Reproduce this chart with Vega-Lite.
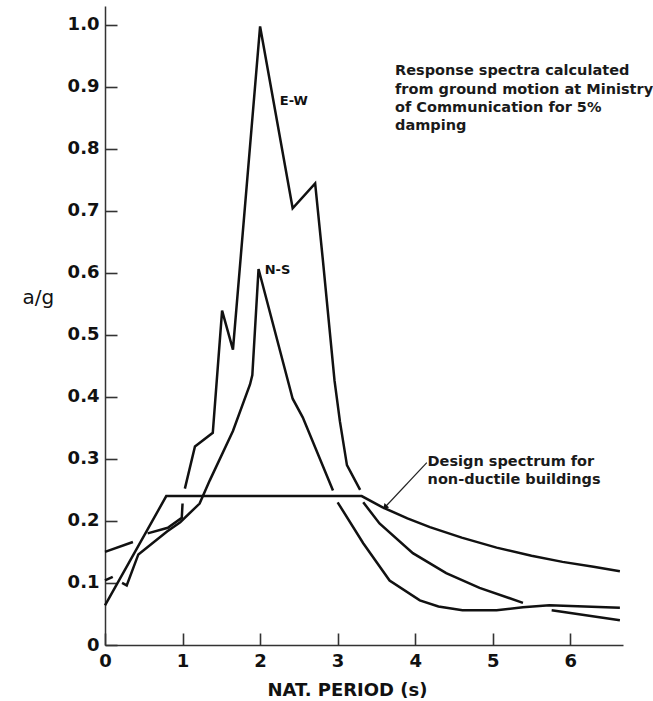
{
  "$schema": "https://vega.github.io/schema/vega-lite/v6.json",
  "autosize": "none",
  "width": 518,
  "height": 639,
  "padding": {"left": 105, "top": 6, "right": 30, "bottom": 56},
  "background": "white",
  "config": {"view": {"stroke": null}},
  "datasets": {
    "curves": [
      {"k": "NS1", "series": "N-S", "x": 0, "y": 0.104},
      {"k": "NS1", "series": "N-S", "x": 0.1, "y": 0.11},
      {"k": "NS2", "series": "N-S", "x": 0.22, "y": 0.1},
      {"k": "NS2", "series": "N-S", "x": 0.28, "y": 0.096},
      {"k": "NS2", "series": "N-S", "x": 0.43, "y": 0.146},
      {"k": "NS2", "series": "N-S", "x": 0.8, "y": 0.183},
      {"k": "NS2", "series": "N-S", "x": 0.97, "y": 0.198},
      {"k": "NS2", "series": "N-S", "x": 1.22, "y": 0.228},
      {"k": "NS2", "series": "N-S", "x": 1.35, "y": 0.265},
      {"k": "NS2", "series": "N-S", "x": 1.65, "y": 0.345},
      {"k": "NS2", "series": "N-S", "x": 1.87, "y": 0.42},
      {"k": "NS2", "series": "N-S", "x": 1.9, "y": 0.435},
      {"k": "NS2", "series": "N-S", "x": 1.98, "y": 0.606},
      {"k": "NS2", "series": "N-S", "x": 2.42, "y": 0.397},
      {"k": "NS2", "series": "N-S", "x": 2.55, "y": 0.367},
      {"k": "NS2", "series": "N-S", "x": 2.94, "y": 0.249},
      {"k": "NS3", "series": "N-S", "x": 3.0, "y": 0.23},
      {"k": "NS3", "series": "N-S", "x": 3.33, "y": 0.164},
      {"k": "NS3", "series": "N-S", "x": 3.67, "y": 0.104},
      {"k": "NS3", "series": "N-S", "x": 4.06, "y": 0.072},
      {"k": "NS3", "series": "N-S", "x": 4.3, "y": 0.062},
      {"k": "NS3", "series": "N-S", "x": 4.61, "y": 0.056},
      {"k": "NS3", "series": "N-S", "x": 5.05, "y": 0.056},
      {"k": "NS3", "series": "N-S", "x": 5.39, "y": 0.061},
      {"k": "NS3", "series": "N-S", "x": 5.73, "y": 0.064},
      {"k": "NS3", "series": "N-S", "x": 6.64, "y": 0.06},
      {"k": "EW1", "series": "E-W", "x": 0, "y": 0.15},
      {"k": "EW1", "series": "E-W", "x": 0.36, "y": 0.166},
      {"k": "EW2", "series": "E-W", "x": 0.55, "y": 0.18},
      {"k": "EW2", "series": "E-W", "x": 0.81, "y": 0.189},
      {"k": "EW2", "series": "E-W", "x": 0.99, "y": 0.205},
      {"k": "EW2", "series": "E-W", "x": 1.0, "y": 0.228},
      {"k": "EW3", "series": "E-W", "x": 1.03, "y": 0.252},
      {"k": "EW3", "series": "E-W", "x": 1.16, "y": 0.32},
      {"k": "EW3", "series": "E-W", "x": 1.39, "y": 0.342},
      {"k": "EW3", "series": "E-W", "x": 1.51, "y": 0.539},
      {"k": "EW3", "series": "E-W", "x": 1.65, "y": 0.476},
      {"k": "EW3", "series": "E-W", "x": 2.0, "y": 0.997},
      {"k": "EW3", "series": "E-W", "x": 2.42, "y": 0.704},
      {"k": "EW3", "series": "E-W", "x": 2.71, "y": 0.744},
      {"k": "EW3", "series": "E-W", "x": 2.81, "y": 0.62},
      {"k": "EW3", "series": "E-W", "x": 2.96, "y": 0.426},
      {"k": "EW3", "series": "E-W", "x": 3.03, "y": 0.36},
      {"k": "EW3", "series": "E-W", "x": 3.12, "y": 0.29},
      {"k": "EW3", "series": "E-W", "x": 3.29, "y": 0.25},
      {"k": "EW4", "series": "E-W", "x": 3.33, "y": 0.23},
      {"k": "EW4", "series": "E-W", "x": 3.54, "y": 0.196},
      {"k": "EW4", "series": "E-W", "x": 3.97, "y": 0.148},
      {"k": "EW4", "series": "E-W", "x": 4.4, "y": 0.116},
      {"k": "EW4", "series": "E-W", "x": 4.83, "y": 0.092},
      {"k": "EW4", "series": "E-W", "x": 5.39, "y": 0.068},
      {"k": "EW5", "series": "E-W", "x": 5.76, "y": 0.056},
      {"k": "EW5", "series": "E-W", "x": 6.64, "y": 0.04},
      {"k": "D", "series": "Design", "x": 0, "y": 0.064},
      {"k": "D", "series": "Design", "x": 0.79, "y": 0.24},
      {"k": "D", "series": "Design", "x": 3.31, "y": 0.24},
      {"k": "D", "series": "Design", "x": 3.58, "y": 0.222},
      {"k": "D", "series": "Design", "x": 3.9, "y": 0.204},
      {"k": "D", "series": "Design", "x": 4.19, "y": 0.19},
      {"k": "D", "series": "Design", "x": 4.6, "y": 0.173},
      {"k": "D", "series": "Design", "x": 5.05, "y": 0.157},
      {"k": "D", "series": "Design", "x": 5.5, "y": 0.144},
      {"k": "D", "series": "Design", "x": 5.9, "y": 0.134},
      {"k": "D", "series": "Design", "x": 6.3, "y": 0.126},
      {"k": "D", "series": "Design", "x": 6.64, "y": 0.119}
    ],
    "labels": [
      {"text": "E-W", "x": 2.255, "y": 0.87},
      {"text": "N-S", "x": 2.06, "y": 0.598}
    ],
    "notes": [
      {"text": "Response spectra calculated\nfrom ground motion at Ministry\nof Communication for 5%\ndamping", "x": 3.74, "y": 0.918},
      {"text": "Design spectrum for\nnon-ductile buildings", "x": 4.16, "y": 0.289}
    ],
    "arrow": [
      {"x": 4.15, "y": 0.294, "x2": 3.61, "y2": 0.222}
    ]
  },
  "layer": [
    {
      "data": {"name": "curves"},
      "mark": {"type": "line", "color": "#111111", "strokeWidth": 2.5, "strokeJoin": "miter", "clip": false},
      "encoding": {
        "x": {
          "field": "x", "type": "quantitative",
          "scale": {"domain": [0, 6.68], "nice": false, "zero": false},
          "axis": {
            "values": [0, 1, 2, 3, 4, 5, 6],
            "format": "d",
            "grid": false,
            "labelFlush": false,
            "domainColor": "#333333", "domainWidth": 1.5,
            "ticks": true,
            "tickColor": "#333333", "tickWidth": 1.6, "tickSize": -12,
            "labelFont": "DejaVu Sans", "labelFontWeight": "bold", "labelFontSize": 18,
            "labelColor": "#111111", "labelPadding": 19,
            "title": "NAT. PERIOD (s)",
            "titleFont": "DejaVu Sans", "titleFontWeight": "bold", "titleFontSize": 18,
            "titleColor": "#111111",
            "titleX": 242, "titleY": 50, "titleAlign": "center", "titleBaseline": "alphabetic"
          }
        },
        "y": {
          "field": "y", "type": "quantitative",
          "scale": {"domain": [0, 1.03], "nice": false},
          "axis": {
            "values": [0, 0.1, 0.2, 0.3, 0.4, 0.5, 0.6, 0.7, 0.8, 0.9, 1.0],
            "labelExpr": "datum.value == 0 ? '0' : format(datum.value, '.1f')",
            "grid": false,
            "labelFlush": false,
            "domainColor": "#333333", "domainWidth": 1.5,
            "ticks": true,
            "tickColor": "#333333", "tickWidth": 1.6, "tickSize": -12,
            "labelFont": "DejaVu Sans", "labelFontWeight": "bold", "labelFontSize": 18,
            "labelColor": "#111111", "labelPadding": 18,
            "title": "a/g",
            "titleFont": "DejaVu Sans", "titleFontWeight": "normal", "titleFontSize": 20,
            "titleColor": "#111111",
            "titleAngle": 0, "titleAlign": "left", "titleBaseline": "alphabetic",
            "titleX": -83, "titleY": 297
          }
        },
        "detail": {"field": "k", "type": "nominal"},
        "order": {"field": "x", "type": "quantitative"}
      }
    },
    {
      "data": {"name": "arrow"},
      "mark": {"type": "rule", "color": "#222222", "strokeWidth": 1.2},
      "encoding": {
        "x": {"field": "x", "type": "quantitative"},
        "y": {"field": "y", "type": "quantitative"},
        "x2": {"field": "x2"},
        "y2": {"field": "y2"}
      }
    },
    {
      "data": {"name": "arrow"},
      "mark": {"type": "point", "shape": "triangle-up", "filled": true, "color": "#111111", "size": 40, "angle": 223, "opacity": 1},
      "encoding": {
        "x": {"field": "x2", "type": "quantitative"},
        "y": {"field": "y2", "type": "quantitative"}
      }
    },
    {
      "data": {"name": "labels"},
      "mark": {"type": "text", "font": "DejaVu Sans", "fontSize": 13, "fontWeight": "bold", "align": "left", "baseline": "alphabetic", "color": "#111111"},
      "encoding": {
        "x": {"field": "x", "type": "quantitative"},
        "y": {"field": "y", "type": "quantitative"},
        "text": {"field": "text"}
      }
    },
    {
      "data": {"name": "notes"},
      "mark": {"type": "text", "font": "DejaVu Sans", "fontSize": 14.5, "fontWeight": "bold", "align": "left", "baseline": "alphabetic", "lineBreak": "\n", "lineHeight": 18.3, "color": "#1a1a1a"},
      "encoding": {
        "x": {"field": "x", "type": "quantitative"},
        "y": {"field": "y", "type": "quantitative"},
        "text": {"field": "text"}
      }
    }
  ]
}
